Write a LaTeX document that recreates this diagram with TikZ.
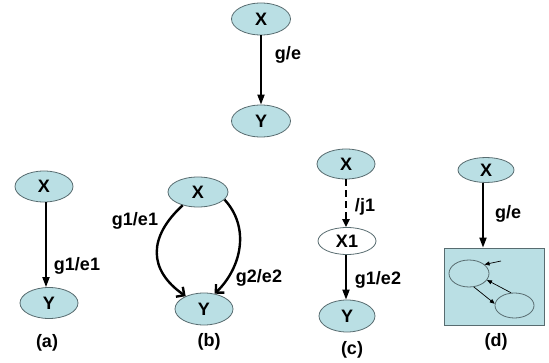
\documentclass[tikz,border=0pt]{standalone}
\usepackage{fontspec}
\setmainfont{Liberation Sans}
\usetikzlibrary{shapes.geometric,arrows.meta}
\definecolor{nodefill}{RGB}{186,223,228}
\definecolor{nodeline}{RGB}{88,108,112}
\tikzset{
  gnode/.style={ellipse, draw=nodeline, line width=0.8pt, fill=nodefill, inner sep=0pt,
    font=\fontsize{18}{20}\selectfont\bfseries},
  wnode/.style={gnode, fill=white},
  lbl/.style={font=\fontsize{18}{20}\selectfont\bfseries, inner sep=0pt},
  arr/.style={line width=1.8pt, -{Triangle[length=10pt,width=7pt]}},
  darr/.style={line width=2.3pt, dash pattern=on 7pt off 4pt, -{Triangle[length=8pt,width=7pt]}},
  carr/.style={line width=2.4pt, -{Straight Barb[length=6pt,width=12pt]}},
  sarr/.style={line width=0.7pt, -{Triangle[length=5pt,width=4pt]}},
  mini/.style={ellipse, draw=nodeline, line width=0.8pt, inner sep=0pt},
}
\begin{document}
\begin{tikzpicture}[x=1pt,y=1pt]
\useasboundingbox[fill=white] (0,0) rectangle (549,362);

% single transition
\node[gnode, minimum width=59pt, minimum height=32pt] (tX) at (261,343) {X};
\node[gnode, minimum width=59pt, minimum height=32pt] (tY) at (261,241) {Y};
\draw[arr] (tX) -- (tY);
\node[lbl] (tL) at (288,307) {g/e};

% (a)
\node[gnode, minimum width=58pt, minimum height=31pt] (aX) at (44,175.5) {X};
\node[gnode, minimum width=58pt, minimum height=31pt] (aY) at (49,59) {Y};
\draw[arr] ([xshift=2pt]aX.south) -- ([xshift=2pt]aX.south |- aY.north);
\node[lbl] (aL) at (77,96) {g1/e1};
\node[lbl] (aC) at (47,19) {(a)};

% (b)
\node[gnode, minimum width=60pt, minimum height=30pt] (bX) at (198,170) {X};
\node[gnode, minimum width=58pt, minimum height=32pt] (bY) at (204,53) {Y};
\draw[carr] (bX.221) .. controls (148,125) and (148,92) .. (bY.145);
\draw[carr] (bX.344) .. controls (250,135) and (242,95) .. (bY.55);
\node[lbl] (bL1) at (135,141) {g1/e1};
\node[lbl] (bL2) at (259,84) {g2/e2};
\node[lbl] (bC) at (209,20) {(b)};

% (c)
\node[gnode, minimum width=58pt, minimum height=30pt] (cX) at (346,198) {X};
\node[wnode, minimum width=58pt, minimum height=27pt] (cX1) at (347,121) {X1};
\node[gnode, minimum width=56pt, minimum height=32pt] (cY) at (347,46) {Y};
\draw[darr] (cX.south) -- (cX.south |- cX1.north);
\draw[arr] ([xshift=-1pt]cX1.south) -- ([xshift=-1pt]cX1.south |- cY.north);
\node[lbl] (cL1) at (365,155) {/j1};
\node[lbl] (cL2) at (378,82) {g1/e2};
\node[lbl] (cC) at (352,12) {(c)};

% (d)
\node[gnode, minimum width=56pt, minimum height=25pt] (dX) at (486,192) {X};
\node[draw=nodeline, line width=0.8pt, fill=nodefill, minimum width=100pt, minimum height=77pt,
  inner sep=0pt] (dB) at (494,75.5) {};
\draw[arr] ([xshift=-3pt]dX.south) -- ([xshift=-3pt]dX.south |- dB.north);
\node[lbl] (dL) at (508,148) {g/e};
\node[lbl] (dC) at (496,20) {(d)};
\node[mini, minimum width=40pt, minimum height=27pt] (e1) at (469,88.5) {};
\node[mini, minimum width=39pt, minimum height=25pt] (e2) at (514.5,56.5) {};
\coordinate (din) at (501,101);
\draw[sarr] (din) -- (e1.30);
\draw[sarr] (e1.290) -- (e2.175);
\draw[sarr] (e2.105) -- (e1.-20);
\end{tikzpicture}
\end{document}
